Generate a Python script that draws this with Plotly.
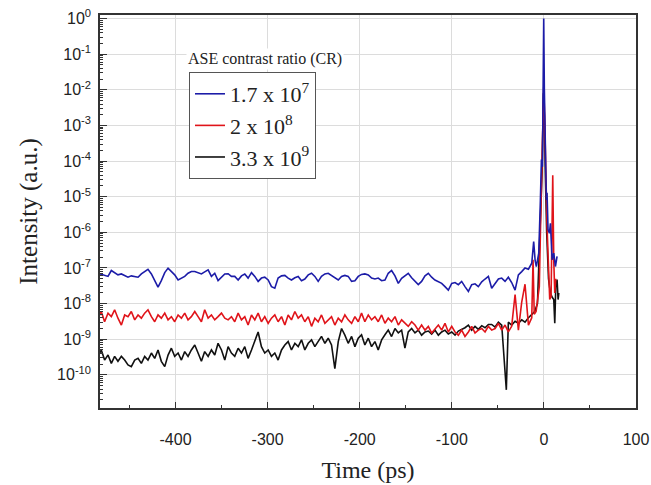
import plotly.graph_objects as go

# ---------------- data ----------------
# common time base of the flat pre-pulse region (ps)
t_base = [-484.2, -480.6, -477.0, -473.3, -469.7, -466.1, -462.5, -458.8, -455.2, -451.6,
          -448.0, -444.3, -440.7, -437.1, -433.5, -429.9, -426.2, -422.6, -419.0, -415.4,
          -411.7, -408.1, -404.5, -400.9, -397.2, -393.6, -390.0, -386.4, -382.8, -379.1,
          -375.5, -371.9, -368.3, -364.6, -361.0, -357.4, -353.8, -350.1, -346.5, -342.9,
          -339.3, -335.7, -332.0, -328.4, -324.8, -321.2, -317.5, -313.9, -310.3, -306.7,
          -303.1, -299.4, -295.8, -292.2, -288.6, -284.9, -281.3, -277.7, -274.1, -270.4,
          -266.8, -263.2, -259.6, -255.9, -252.3, -248.7, -245.1, -241.5, -237.8, -234.2,
          -230.6, -227.0, -223.3, -219.7, -216.1, -212.5, -208.8, -205.2, -201.6, -198.0,
          -194.4, -190.7, -187.1, -183.5, -179.9, -176.2, -172.6, -169.0, -165.4, -161.7,
          -158.1, -154.5, -150.9, -147.3, -143.6, -140.0, -136.4, -132.8, -129.1, -125.5,
          -121.9, -118.3, -114.6, -111.0, -107.4, -103.8, -100.1, -96.5, -92.9, -89.3,
          -85.7, -82.0, -78.4, -74.8, -71.2, -67.5, -63.9, -60.3, -56.7, -53.0,
          -49.4, -45.8, -42.2, -38.6, -35.0, -31.3, -27.7, -24.1, -20.5, -16.8,
          -13.2]

# CR = 1.7 x 10^7 (blue)
blue_flat = [7.1e-8, 6.6e-8, 6.0e-8, 5.8e-8, 8.5e-8, 7.4e-8, 6.4e-8, 6.8e-8, 6.2e-8, 5.5e-8,
             6.0e-8, 5.8e-8, 5.5e-8, 6.8e-8, 8.0e-8, 9.2e-8, 6.8e-8, 4.6e-8, 2.9e-8, 4.4e-8,
             7.4e-8, 9.9e-8, 8.0e-8, 6.4e-8, 4.6e-8, 5.1e-8, 5.8e-8, 7.1e-8, 8.0e-8, 8.0e-8,
             7.4e-8, 6.8e-8, 7.8e-8, 8.9e-8, 5.8e-8, 7.1e-8, 4.4e-8, 5.5e-8, 6.8e-8, 6.9e-8,
             5.8e-8, 5.8e-8, 4.6e-8, 6.0e-8, 6.8e-8, 5.2e-8, 7.4e-8, 5.8e-8, 4.2e-8, 5.2e-8,
             5.5e-8, 4.6e-8, 3.0e-8, 2.7e-8, 5.2e-8, 6.0e-8, 6.2e-8, 5.2e-8, 4.6e-8, 5.3e-8,
             5.8e-8, 4.4e-8, 4.9e-8, 6.4e-8, 7.1e-8, 5.8e-8, 4.2e-8, 5.8e-8, 6.8e-8, 7.1e-8,
             6.2e-8, 5.3e-8, 4.6e-8, 5.8e-8, 6.2e-8, 5.8e-8, 4.2e-8, 4.4e-8, 5.8e-8, 6.6e-8,
             6.8e-8, 6.4e-8, 5.2e-8, 4.9e-8, 5.2e-8, 4.4e-8, 4.6e-8, 7.1e-8, 8.5e-8, 6.0e-8,
             3.7e-8, 5.1e-8, 6.2e-8, 7.1e-8, 5.3e-8, 4.1e-8, 3.4e-8, 4.2e-8, 6.0e-8, 7.1e-8,
             5.5e-8, 4.6e-8, 4.2e-8, 3.7e-8, 3.0e-8, 2.4e-8, 3.7e-8, 3.9e-8, 3.4e-8, 4.2e-8,
             3.0e-8, 2.2e-8, 3.4e-8, 3.6e-8, 3.0e-8, 4.1e-8, 4.9e-8, 5.8e-8, 2.7e-8, 3.7e-8,
             4.9e-8, 5.2e-8, 4.2e-8, 5.5e-8, 3.9e-8, 2.4e-8, 6.4e-8, 7.9e-8, 1.0e-7, 9.2e-8,
             1.36e-7]
blue_peak_t = [-11.1, -9.5, -8.2, -5.6, -3.8, -2.7, -1.6, -0.9, -0.2, 0.5, 1.3, 2.0, 2.7,
               3.4, 4.5, 6.0, 7.1, 8.9, 10.7, 12.5, 14.3]
blue_peak = [5.5e-7, 1.6e-7, 1.1e-7, 2.6e-7, 8.1e-6, 1.1e-4, 6.9e-5, 4.5e-2, 1.0, 1.0e-2,
             1.1e-4, 6.9e-5, 8.1e-6, 1.3e-5, 1.2e-6, 9.5e-7, 1.8e-6, 1.7e-7, 2.6e-7, 1.1e-7,
             2.1e-7]

# CR = 2 x 10^8 (red)
red_flat = [3.9e-9, 6.0e-9, 3.1e-9, 5.4e-9, 4.3e-9, 6.7e-9, 3.9e-9, 2.5e-9, 4.8e-9, 4.3e-9,
            6.0e-9, 3.5e-9, 4.8e-9, 3.9e-9, 5.4e-9, 6.7e-9, 4.3e-9, 3.1e-9, 4.8e-9, 3.9e-9,
            5.4e-9, 3.5e-9, 4.3e-9, 3.1e-9, 4.8e-9, 3.9e-9, 5.4e-9, 3.5e-9, 4.3e-9, 6.0e-9,
            4.3e-9, 3.1e-9, 6.7e-9, 3.9e-9, 4.8e-9, 3.5e-9, 4.3e-9, 5.4e-9, 3.9e-9, 3.5e-9,
            4.3e-9,
            3.1e-9, 5.4e-9, 3.5e-9, 4.3e-9, 2.5e-9, 4.8e-9, 3.5e-9, 5.4e-9, 3.1e-9,
            4.3e-9, 2.8e-9, 3.9e-9, 4.8e-9, 3.1e-9, 4.3e-9, 2.5e-9, 4.8e-9, 3.5e-9, 6.0e-9,
            3.9e-9, 4.8e-9, 3.1e-9, 4.3e-9, 2.3e-9, 3.9e-9, 3.1e-9, 4.8e-9, 2.8e-9, 3.5e-9,
            4.3e-9, 2.5e-9, 3.9e-9, 3.1e-9, 4.8e-9, 3.5e-9, 2.8e-9, 4.3e-9, 3.1e-9,
            5.4e-9, 3.1e-9, 4.8e-9, 3.5e-9, 4.3e-9, 3.1e-9, 4.8e-9, 2.8e-9, 3.9e-9, 3.1e-9,
            4.3e-9, 2.5e-9, 3.5e-9, 2.8e-9, 2.3e-9, 3.1e-9, 2.5e-9, 1.8e-9, 2.5e-9, 1.8e-9,
            2.3e-9, 1.5e-9, 2.0e-9, 2.5e-9, 1.8e-9, 2.8e-9, 1.6e-9, 2.3e-9, 1.6e-9, 1.3e-9,
            1.8e-9, 1.2e-9, 1.6e-9, 2.3e-9, 1.5e-9, 1.8e-9, 2.0e-9, 1.6e-9, 2.3e-9, 1.8e-9,
            2.0e-9, 2.8e-9, 1.8e-9, 2.5e-9, 1.6e-9, 2.3e-9, 1.8e-8, 1.8e-9, 1.1e-8, 3.5e-8,
            2.5e-9, 4.0e-9]
red_peak_t = [-11.8, -10.5, -8.5, -6.5, -5.0, -3.8, -2.0, -0.9, -0.2, 0.5, 1.3, 2.4, 3.4,
              5.3, 6.3, 7.8, 9.6, 10.7, 11.8, 12.9]
red_peak = [1.7e-7, 5.0e-9, 6.0e-9, 1.3e-8, 3.0e-8, 9.5e-7, 6.9e-5, 3.0e-3, 1.2e-2, 3.3e-3,
            1.0e-4, 2.4e-5, 1.5e-6, 1.1e-7, 1.3e-8, 1.6e-8, 4.0e-5, 1.6e-7, 2.0e-8, 5.0e-8]

# CR = 3.3 x 10^9 (black)
black_flat = [3.3e-10, 5.0e-10, 2.6e-10, 3.6e-10, 2.1e-10, 3.3e-10, 2.4e-10, 3.3e-10, 2.6e-10, 1.9e-10,
              1.7e-10, 2.6e-10, 2.9e-10, 2.1e-10, 3.3e-10, 2.6e-10, 4.1e-10, 2.9e-10, 5.0e-10, 2.4e-10,
              1.7e-10, 3.6e-10, 5.6e-10, 3.3e-10, 4.1e-10, 2.6e-10, 4.5e-10, 3.3e-10, 5.0e-10, 6.9e-10,
              4.1e-10, 2.4e-10, 4.5e-10, 3.3e-10, 5.0e-10, 3.6e-10, 7.7e-10, 5.0e-10, 2.6e-10, 6.2e-10,
              4.1e-10,
              3.3e-10, 5.6e-10, 4.1e-10, 6.2e-10, 2.9e-10, 5.0e-10, 8.6e-10, 1.6e-9, 6.2e-10,
              4.1e-10, 5.0e-10, 3.3e-10, 4.1e-10, 2.6e-10, 5.0e-10, 6.9e-10, 8.6e-10, 5.0e-10, 7.7e-10,
              6.2e-10, 9.6e-10, 5.0e-10, 7.7e-10, 9.6e-10, 6.2e-10, 8.6e-10, 1.2e-9, 7.7e-10, 1.07e-9,
              6.9e-10, 1.5e-10, 8.6e-10, 2.0e-9, 1.3e-9, 7.7e-10, 1.2e-9, 6.2e-10, 1.07e-9,
              1.33e-9, 6.9e-10, 1.07e-9, 6.2e-10, 8.6e-10, 5.0e-10, 9.6e-10, 1.33e-9, 1.8e-9, 1.19e-9,
              2.0e-9, 1.5e-9, 1.8e-9, 5.6e-10, 1.6e-9, 2.0e-9, 1.5e-9, 1.8e-9, 1.3e-9, 1.6e-9,
              1.7e-9, 1.4e-9, 1.8e-9, 1.3e-9, 1.6e-9, 1.8e-9, 1.4e-9, 1.6e-9, 1.3e-9, 1.7e-9,
              1.9e-9, 2.1e-9, 2.5e-9, 1.8e-9, 2.3e-9, 1.9e-9, 2.4e-9, 2.1e-9, 2.6e-9, 2.6e-9,
              2.2e-9, 3.0e-9, 2.5e-9]
black_tail_t = [-40.8, -38.6, -35.0, -31.3, -27.7, -24.1, -20.5, -16.8, -13.2, -10.0, -7.0,
                -4.0, -2.0, -0.5, 0.5, 1.5, 3.0, 5.0, 7.0, 9.0, 10.7, 11.8, 12.9, 14.3, 15.4, 16.2]
black_tail = [3.8e-11, 3.0e-9, 2.5e-9, 3.2e-9, 2.8e-9, 3.5e-9, 3.0e-9, 4.0e-9, 5.0e-9, 6.0e-9,
              1.0e-8, 1.0e-6, 5.0e-5, 8.0e-3, 2.0e-3, 5.0e-5, 1.0e-6, 5.0e-8, 2.0e-8, 1.5e-8,
              1.3e-8, 2.8e-9, 3.0e-8, 4.7e-8, 1.3e-8, 2.0e-8]

series_names = ["1.7 x 10<sup>7</sup>", "2 x 10<sup>8</sup>", "3.3 x 10<sup>9</sup>"]
x_tickvals = [-400, -300, -200, -100, 0, 100]
x_ticktext = ["-400", "-300", "-200", "-100", "0", "100"]
y_tickvals = [1, 1e-1, 1e-2, 1e-3, 1e-4, 1e-5, 1e-6, 1e-7, 1e-8, 1e-9, 1e-10]
y_ticktext = ["10<sup>0</sup>", "10<sup>-1</sup>", "10<sup>-2</sup>", "10<sup>-3</sup>",
              "10<sup>-4</sup>", "10<sup>-5</sup>", "10<sup>-6</sup>", "10<sup>-7</sup>",
              "10<sup>-8</sup>", "10<sup>-9</sup>", "10<sup>-10</sup>"]

# ---------------- figure ----------------
blue_t = t_base + blue_peak_t
blue_v = blue_flat + blue_peak
red_t = t_base + red_peak_t
red_v = red_flat + red_peak
black_t = t_base[:len(black_flat)] + black_tail_t
black_v = black_flat + black_tail

fig = go.Figure()
fig.add_trace(go.Scatter(x=black_t, y=black_v, mode="lines", name=series_names[2],
                         legendgroup="c", legendrank=3, line=dict(color="#111111", width=1.6)))
fig.add_trace(go.Scatter(x=red_t, y=red_v, mode="lines", name=series_names[1],
                         legendgroup="b", legendrank=2, line=dict(color="#e0141a", width=1.6)))
fig.add_trace(go.Scatter(x=blue_t, y=blue_v, mode="lines", name=series_names[0],
                         legendgroup="a", legendrank=1, line=dict(color="#1c1ca8", width=1.6)))

minor_y = [m * 10.0 ** e for e in range(-11, 1) for m in range(2, 10)]

fig.update_layout(
    width=651, height=485,
    margin=dict(l=100, r=15, t=15, b=77),
    plot_bgcolor="white", paper_bgcolor="white",
    showlegend=True,
    legend=dict(x=0.166, y=0.855, xanchor="left", yanchor="top",
                bgcolor="white", bordercolor="#555555", borderwidth=1,
                font=dict(family="Liberation Serif", size=22, color="#222222"),
                traceorder="grouped", tracegroupgap=0),
    annotations=[dict(text="ASE contrast ratio (CR)", xref="paper", yref="paper",
                      x=0.308, y=0.888, xanchor="center", yanchor="middle",
                      showarrow=False, bgcolor="white",
                      font=dict(family="Liberation Serif", size=16, color="#222222"))],
)

fig.update_xaxes(
    range=[-482, 100], tickmode="array", tickvals=x_tickvals, ticktext=x_ticktext,
    automargin=False,
    ticks="inside", ticklen=6, tickcolor="#333333", tickwidth=1.2,
    showline=True, linecolor="#333333", linewidth=1.5, mirror=True,
    showgrid=True, gridcolor="#dcdcdc", gridwidth=1, zeroline=False,
    minor=dict(ticks="inside", ticklen=3, dtick=50, tick0=0, showgrid=False, tickcolor="#333333"),
    tickfont=dict(family="Liberation Sans", size=16, color="#222222"),
    ticklabelstandoff=16,
    title=dict(text="Time (ps)", standoff=14,
               font=dict(family="Liberation Serif", size=24, color="#222222")),
)
fig.update_yaxes(
    type="log", range=[-10.93, 0.1],
    tickmode="array", tickvals=y_tickvals, ticktext=y_ticktext,
    automargin=False,
    ticks="inside", ticklen=7, tickcolor="#333333", tickwidth=1.2,
    showline=True, linecolor="#333333", linewidth=1.5, mirror=True,
    showgrid=True, gridcolor="#dcdcdc", gridwidth=1, zeroline=False,
    minor=dict(tickmode="array", tickvals=minor_y, ticks="inside", ticklen=3,
               showgrid=False, tickcolor="#333333"),
    tickfont=dict(family="Liberation Sans", size=16, color="#222222"),
    ticklabelstandoff=4,
    title=dict(text="Intensity (a.u.)", standoff=12,
               font=dict(family="Liberation Serif", size=25, color="#222222")),
)

fig.write_html("out.html", config={"displayModeBar": False},
               post_script="document.body.style.margin='0';")
